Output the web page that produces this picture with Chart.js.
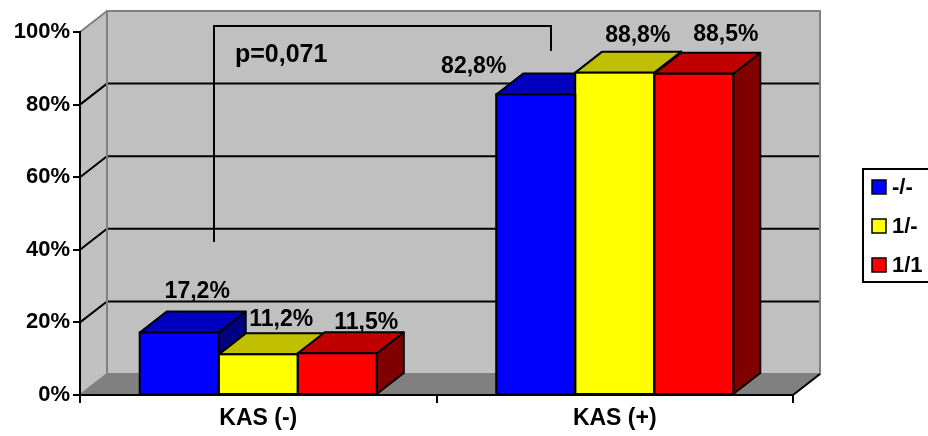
<!DOCTYPE html>
<html>
<head>
<meta charset="utf-8">
<script src="https://cdn.jsdelivr.net/npm/chart.js@4.4.1/dist/chart.umd.min.js"></script>
<style>
  html, body { margin: 0; padding: 0; background: #ffffff; }
  #wrap { width: 928px; height: 436px; }
</style>
</head>
<body>
<div id="wrap"><canvas id="c" width="928" height="436"></canvas></div>
<script>
// ---- data ----
const categories = ['KAS (-)', 'KAS (+)'];
const seriesNames = ['-/-', '1/-', '1/1'];
const valuesMinusMinus = [17.2, 82.8];
const valuesOneMinus = [11.2, 88.8];
const valuesOneOne = [11.5, 88.5];
const yTickValues = [0, 20, 40, 60, 80, 100];
const pValueText = 'p=0,071';

// ---- styles / layout ----
const FONT = "'Liberation Sans', Arial, sans-serif";
const frontColors = ['#0000FF', '#FFFF00', '#FF0000'];
const topColors = ['#0000BE', '#C0C000', '#C00000'];
const sideColors = ['#000080', '#808000', '#800000'];
const DEPTH = { dx: 27, dy: -21 };
// label nudges [series][category] relative to back-top centre of each bar
const labelNudge = [
  [[-9, -14], [-89, 0]],
  [[-4, -7], [-4, -10]],
  [[2, -3], [5, -12]]
];
const bracket = { x1: 214, x2: 551, yTop: 26, yLeft: 242, yRight: 51, textX: 235, textY: 62 };
const legendBox = { x: 863, y: 169, w: 80, h: 113, sq: 14, sqX: 872, textX: 892, rows: [187, 226, 265] };

function fmt(v) { return v.toFixed(1).replace('.', ',') + '%'; }

const threeD = {
  id: 'threeD',
  beforeDraw(chart) {
    const { ctx, chartArea: a, scales: { y } } = chart;
    const { dx, dy } = DEPTH;
    ctx.save();
    // back wall
    ctx.fillStyle = '#C0C0C0';
    ctx.fillRect(a.left + dx, a.top + dy, a.right - a.left, a.bottom - a.top);
    // side wall
    ctx.beginPath();
    ctx.moveTo(a.left, a.top); ctx.lineTo(a.left + dx, a.top + dy);
    ctx.lineTo(a.left + dx, a.bottom + dy); ctx.lineTo(a.left, a.bottom); ctx.closePath();
    ctx.fill();
    // floor
    ctx.fillStyle = '#808080';
    ctx.beginPath();
    ctx.moveTo(a.left, a.bottom); ctx.lineTo(a.right, a.bottom);
    ctx.lineTo(a.right + dx, a.bottom + dy); ctx.lineTo(a.left + dx, a.bottom + dy); ctx.closePath();
    ctx.fill();
    // gridlines
    ctx.lineWidth = 2;
    ctx.strokeStyle = '#000';
    yTickValues.forEach(v => {
      if (v <= 0 || v >= 100) return;
      const yy = y.getPixelForValue(v);
      ctx.beginPath();
      ctx.moveTo(a.left, yy); ctx.lineTo(a.left + dx, yy + dy);
      ctx.lineTo(a.right + dx, yy + dy);
      ctx.stroke();
    });
    // wall edges
    ctx.strokeStyle = '#808080';
    ctx.strokeRect(a.left + dx, a.top + dy, a.right - a.left, a.bottom - a.top);
    ctx.beginPath();
    ctx.moveTo(a.left, a.top); ctx.lineTo(a.left + dx, a.top + dy);
    ctx.moveTo(a.left, a.bottom); ctx.lineTo(a.left + dx, a.bottom + dy);
    ctx.stroke();
    ctx.strokeStyle = '#000';
    ctx.beginPath();
    ctx.moveTo(a.right, a.bottom); ctx.lineTo(a.right + dx, a.bottom + dy);
    ctx.stroke();
    // significance bracket
    ctx.beginPath();
    ctx.moveTo(bracket.x1, bracket.yLeft); ctx.lineTo(bracket.x1, bracket.yTop);
    ctx.lineTo(bracket.x2, bracket.yTop); ctx.lineTo(bracket.x2, bracket.yRight);
    ctx.stroke();
    ctx.restore();
  },
  beforeDatasetsDraw(chart) {
    const { ctx } = chart;
    const { dx, dy } = DEPTH;
    ctx.save();
    ctx.lineWidth = 2;
    ctx.strokeStyle = '#000';
    ctx.lineJoin = 'round';
    for (let c = 0; c < categories.length; c++) {
      for (let d = 0; d < chart.data.datasets.length; d++) {
        const el = chart.getDatasetMeta(d).data[c];
        const x0 = el.x - el.width / 2, x1 = el.x + el.width / 2;
        const yt = el.y, yb = el.base;
        // side
        ctx.fillStyle = sideColors[d];
        ctx.beginPath();
        ctx.moveTo(x1, yt); ctx.lineTo(x1 + dx, yt + dy);
        ctx.lineTo(x1 + dx, yb + dy); ctx.lineTo(x1, yb); ctx.closePath();
        ctx.fill(); ctx.stroke();
        // top
        ctx.fillStyle = topColors[d];
        ctx.beginPath();
        ctx.moveTo(x0, yt); ctx.lineTo(x1, yt);
        ctx.lineTo(x1 + dx, yt + dy); ctx.lineTo(x0 + dx, yt + dy); ctx.closePath();
        ctx.fill(); ctx.stroke();
      }
    }
    ctx.restore();
  },
  afterDatasetsDraw(chart) {
    const { ctx } = chart;
    const { dx, dy } = DEPTH;
    ctx.save();
    ctx.lineWidth = 2;
    ctx.strokeStyle = '#000';
    chart.data.datasets.forEach((ds, d) => {
      chart.getDatasetMeta(d).data.forEach((el, c) => {
        const x0 = el.x - el.width / 2;
        ctx.strokeRect(x0, el.y, el.width, el.base - el.y);
      });
    });
    ctx.fillStyle = '#000';
    ctx.font = 'bold 23px ' + FONT;
    ctx.textAlign = 'center';
    ctx.textBaseline = 'alphabetic';
    chart.data.datasets.forEach((ds, d) => {
      chart.getDatasetMeta(d).data.forEach((el, c) => {
        const n = labelNudge[d][c];
        ctx.fillText(fmt(ds.data[c]), el.x + dx + n[0], el.y + dy + n[1]);
      });
    });
    ctx.font = 'bold 25px ' + FONT;
    ctx.textAlign = 'left';
    ctx.fillText(pValueText, bracket.textX, bracket.textY);
    ctx.restore();
  },
  afterDraw(chart) {
    const { ctx } = chart;
    const L = legendBox;
    ctx.save();
    ctx.fillStyle = '#fff';
    ctx.fillRect(L.x, L.y, L.w, L.h);
    ctx.lineWidth = 2;
    ctx.strokeStyle = '#000';
    ctx.strokeRect(L.x, L.y, L.w, L.h);
    ctx.font = 'bold 22px ' + FONT;
    ctx.textBaseline = 'middle';
    ctx.textAlign = 'left';
    chart.data.datasets.forEach((ds, d) => {
      const cy = L.rows[d];
      ctx.fillStyle = frontColors[d];
      ctx.fillRect(L.sqX, cy - L.sq / 2, L.sq, L.sq);
      ctx.lineWidth = 1.5;
      ctx.strokeRect(L.sqX, cy - L.sq / 2, L.sq, L.sq);
      ctx.fillStyle = '#000';
      ctx.fillText(ds.label, L.textX, cy + 1);
    });
    ctx.restore();
  }
};

const makeDs = (i, data) => ({
  label: seriesNames[i],
  data: data,
  backgroundColor: frontColors[i],
  borderWidth: 0,
  categoryPercentage: 0.665,
  barPercentage: 1.0
});

new Chart(document.getElementById('c'), {
  type: 'bar',
  data: {
    labels: categories,
    datasets: [makeDs(0, valuesMinusMinus), makeDs(1, valuesOneMinus), makeDs(2, valuesOneOne)]
  },
  options: {
    responsive: false,
    animation: false,
    devicePixelRatio: 1,
    layout: { padding: { top: 32, right: 135, bottom: 0, left: 0 } },
    plugins: { legend: { display: false }, tooltip: { enabled: false } },
    scales: {
      x: {
        grid: { offset: true, drawOnChartArea: false, drawTicks: true, tickLength: 8, color: '#000', lineWidth: 2 },
        border: { display: true, color: '#000', width: 2 },
        ticks: { color: '#000', padding: 2, font: { family: FONT, size: 23, weight: 'bold' } },
        afterFit(s) { s.height = 41; }
      },
      y: {
        min: 0, max: 100,
        ticks: { stepSize: 20, color: '#000', padding: 3, callback: v => v + '%',
                 font: { family: FONT, size: 22, weight: 'bold' } },
        grid: { drawOnChartArea: false, drawTicks: true, tickLength: 7, color: '#000', lineWidth: 2 },
        border: { display: true, color: '#000', width: 2 },
        afterFit(s) { s.width = 80; }
      }
    }
  },
  plugins: [threeD]
});
</script>
</body>
</html>
